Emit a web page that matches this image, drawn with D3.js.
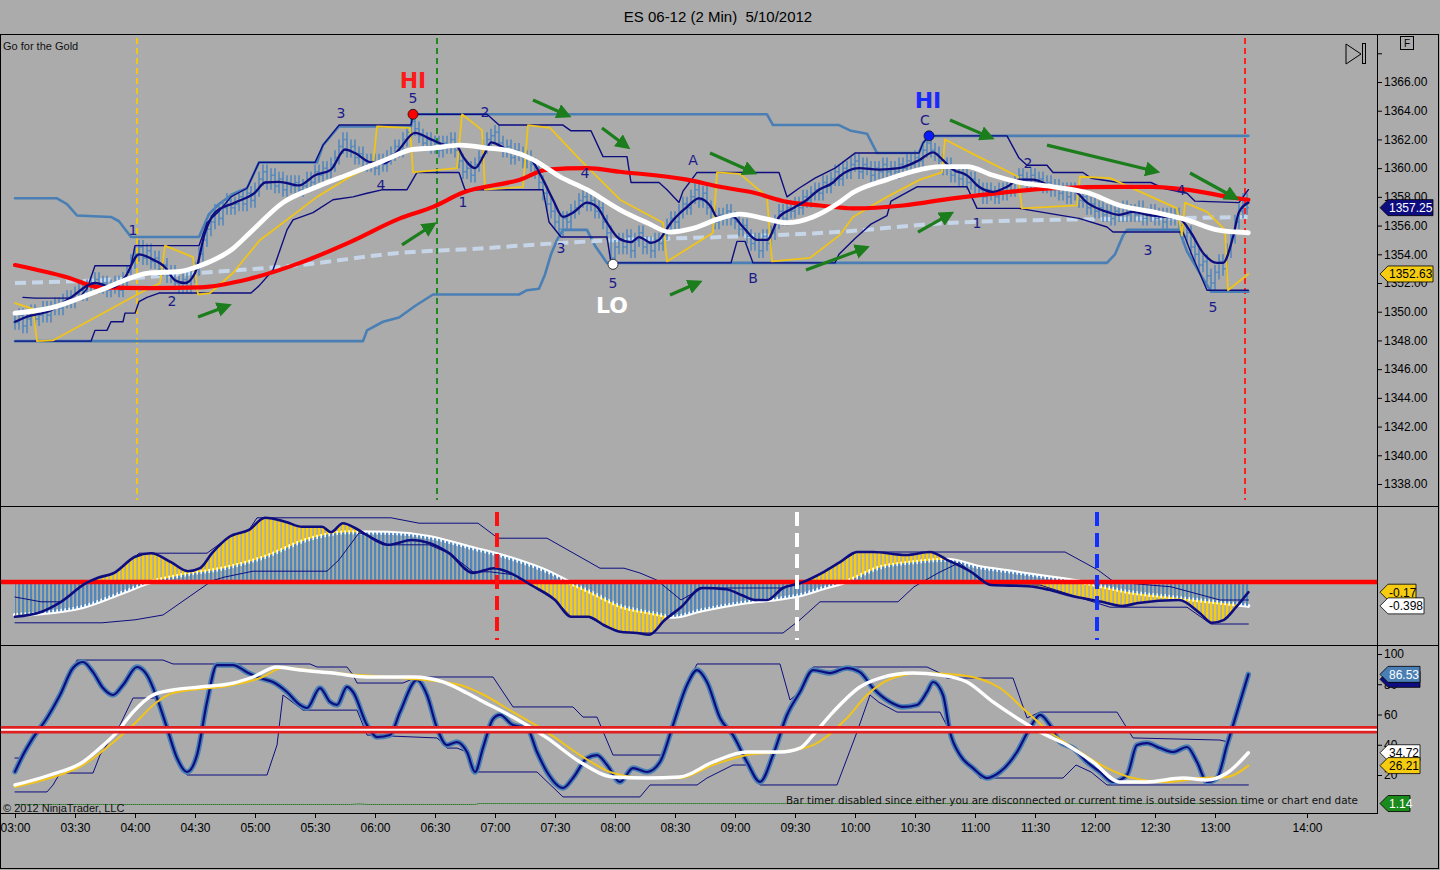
<!DOCTYPE html>
<html>
<head>
<meta charset="utf-8">
<script src="https://cdn.jsdelivr.net/npm/d3@7"></script>
<style>
  body { margin: 0; background: #ababab; }
  text { font-family: "Liberation Sans", Arial, sans-serif; }
</style>
</head>
<body>
<div id="chart"></div>
<script>
// ---------- data ----------
const title = "ES 06-12 (2 Min)  5/10/2012"
const timeTicks = ["03:00","03:30","04:00","04:30","05:00","05:30","06:00","06:30","07:00","07:30",
  "08:00","08:30","09:00","09:30","10:00","10:30","11:00","11:30","12:00","12:30","13:00","14:00"]
const priceTicks = [1338,1340,1342,1344,1346,1348,1350,1352,1354,1356,1358,1360,1362,1364,1366,1368]
const stochTicks = [20,40,60,80,100]

// 2-minute closes from 03:00 (bar 0) to 13:16 (bar 308)
const closes = [
  1349.25,1349.75,1349.0,1349.5,1350.0,1349.5,1349.75,1350.25,1349.75,1350.25,
  1350.5,1350.25,1350.75,1351.0,1350.75,1351.25,1351.5,1351.25,1351.75,1352.0,
  1352.25,1351.75,1352.0,1351.5,1351.75,1352.0,1351.5,1352.25,1352.75,1353.5,
  1354.0,1354.5,1353.75,1354.25,1353.5,1353.75,1353.0,1353.25,1352.5,1352.75,
  1352.0,1351.75,1352.25,1351.75,1352.5,1353.0,1354.0,1355.0,1355.75,1356.25,
  1357.0,1356.5,1357.25,1357.75,1357.25,1357.5,1358.0,1357.5,1358.25,1357.75,
  1358.5,1359.25,1359.75,1359.0,1359.5,1358.75,1359.25,1358.5,1359.0,1358.75,
  1359.0,1358.5,1358.75,1359.25,1359.0,1359.75,1359.5,1360.0,1359.75,1360.25,
  1360.75,1361.5,1362.0,1361.25,1361.5,1360.75,1361.0,1360.5,1360.25,1360.5,
  1360.0,1360.5,1360.25,1360.75,1361.0,1361.5,1361.25,1362.0,1362.5,1363.25,
  1362.75,1362.25,1361.75,1362.0,1361.5,1361.75,1361.25,1361.75,1361.5,1362.0,
  1361.25,1360.5,1359.75,1360.0,1359.5,1360.25,1360.75,1361.5,1362.0,1362.25,
  1362.5,1361.75,1361.25,1361.5,1360.75,1361.25,1361.0,1360.5,1360.75,1360.25,
  1359.75,1359.0,1358.25,1357.5,1357.0,1356.25,1355.75,1356.5,1356.25,1357.0,
  1357.25,1357.75,1358.0,1357.5,1357.75,1357.0,1357.25,1356.25,1355.5,1353.75,
  1354.5,1355.0,1354.5,1355.25,1354.25,1355.0,1355.5,1354.5,1354.75,1354.25,
  1355.0,1354.75,1355.5,1356.0,1356.5,1356.25,1357.0,1357.5,1357.25,1358.0,
  1358.5,1357.75,1358.25,1357.25,1357.0,1356.25,1356.75,1356.5,1357.0,1356.5,
  1356.25,1355.75,1356.0,1355.25,1354.75,1355.0,1354.25,1355.25,1354.75,1355.5,
  1356.25,1357.0,1356.5,1357.25,1357.0,1357.5,1357.25,1358.0,1357.75,1358.25,
  1358.5,1358.25,1359.0,1358.75,1359.25,1359.75,1359.25,1360.0,1359.75,1360.25,
  1360.5,1359.75,1360.25,1360.0,1359.5,1360.0,1359.75,1360.25,1359.75,1360.0,
  1359.75,1360.25,1360.0,1360.5,1360.25,1360.75,1360.5,1361.25,1361.75,1361.25,
  1361.0,1360.5,1360.0,1360.25,1359.5,1359.75,1359.25,1359.5,1359.0,1359.25,
  1358.75,1358.5,1358.0,1358.5,1358.25,1358.0,1358.5,1358.25,1358.75,1358.5,
  1359.0,1359.5,1359.25,1359.0,1359.5,1359.0,1359.25,1358.75,1359.0,1358.5,
  1358.75,1358.25,1358.5,1358.0,1358.5,1358.25,1357.75,1358.0,1357.25,1357.5,
  1357.0,1357.25,1356.75,1357.0,1356.5,1357.0,1356.75,1357.25,1356.75,1357.0,
  1356.75,1357.25,1356.5,1356.75,1357.0,1356.5,1356.75,1356.25,1356.75,1356.5,
  1356.75,1356.0,1355.25,1355.5,1354.5,1354.0,1353.25,1353.5,1352.5,1352.0,
  1352.75,1353.5,1353.0,1354.25,1355.25,1356.25,1357.0,1357.75,1357.25
]

// [bar, price]
const fastMA = [[0,1349.3],[2.5,1349.6],[9,1350.1],[14,1351.0],[20,1352.0],[24.5,1351.7],[27.5,1352.4],[31,1354.0],[34,1353.7],
  [37.5,1353.1],[40,1352.2],[42.5,1352.0],[45,1352.7],[47.5,1355.5],[50,1356.9],[55,1357.6],[60,1358.3],[62.5,1359.0],[66,1359.05],
  [71,1358.8],[75,1359.5],[79,1359.9],[82.5,1361.3],[85,1361.05],[89,1360.4],[92.5,1360.35],[96,1361.3],[100,1362.45],[104,1362.0],
  [107.5,1361.6],[110.5,1361.5],[112,1360.8],[115,1360.0],[117.5,1361.05],[119,1361.8],[123,1361.3],[125.5,1361.05],[129,1360.6],
  [132,1359.2],[134.5,1357.8],[137,1356.6],[139.5,1356.9],[143,1357.6],[145.5,1357.3],[148,1356.2],[151,1355.1],[154,1354.85],
  [156,1355.2],[159,1354.8],[161,1355.0],[164,1356.2],[168,1357.3],[171,1357.9],[174,1357.3],[175.5,1356.6],[179.5,1356.6],
  [182,1355.9],[185.5,1355.0],[188,1355.0],[191,1356.6],[194.5,1357.2],[198,1357.8],[201,1358.5],[204.5,1359.0],[206,1359.4],
  [211,1360.0],[216,1359.9],[221,1360.0],[226,1360.55],[229.5,1361.1],[232,1360.55],[234.5,1359.9],[238,1359.5],[241,1358.7],
  [244.5,1358.35],[248,1358.7],[251,1359.2],[254.5,1359.2],[259.5,1358.7],[264.5,1358.5],[268,1357.6],[273,1356.95],[276,1356.75],
  [279.5,1356.95],[283,1356.75],[288,1356.6],[291,1356.5],[294,1355.5],[297,1354.1],[300.5,1353.4],[302,1353.4],[304.5,1355.2],
  [306,1356.95],[308.5,1357.6]]
const slowMA = [[0,1349.9],[8.75,1350.25],[21.25,1351.5],[33.75,1352.7],[41.25,1352.8],[46.25,1353.2],[54.5,1354.4],[58.75,1355.5],
  [67,1357.6],[75.5,1358.7],[83.75,1359.6],[92,1360.5],[99.5,1361.3],[104.5,1361.4],[111.25,1361.6],[118,1361.4],[123.75,1361.2],
  [129.5,1360.6],[136.25,1359.4],[143,1358.5],[151.25,1357.1],[158,1356.2],[163.75,1355.55],[169.5,1355.8],[176.25,1356.5],
  [181.25,1356.8],[188,1356.45],[193,1356.2],[199.5,1356.6],[205.5,1357.5],[209.5,1358.3],[218,1359.2],[226.25,1359.9],
  [231.25,1360.1],[238,1360.1],[244.5,1359.5],[251.25,1359.0],[259.5,1358.7],[268,1358.3],[276.25,1357.4],[284.5,1356.95],
  [293,1356.4],[300.5,1355.7],[308.5,1355.5]]
const redMA = [[0,1353.25],[13,1352.4],[21.25,1351.7],[33.75,1351.65],[46.25,1351.7],[58.75,1352.3],[71.25,1353.4],[83.75,1354.85],
  [96.25,1356.5],[104.5,1357.3],[112,1358.3],[126.25,1359.2],[133,1359.9],[143,1360.0],[151.25,1359.75],[168,1359.2],[176.25,1358.7],
  [184.5,1358.3],[193,1357.65],[201.25,1357.4],[209.5,1357.2],[222,1357.4],[234.5,1357.9],[247,1358.3],[259.5,1358.6],
  [276.25,1358.7],[284.5,1358.7],[293,1358.5],[305.5,1357.9],[308.5,1357.8]]
const dashMA = [[0,1352.0],[21.25,1352.2],[46.25,1352.7],[71.25,1353.25],[96.25,1354.1],[116.25,1354.4],[126.25,1354.6],
  [151.25,1355.0],[176.25,1355.2],[205.5,1355.55],[234.5,1356.2],[259.5,1356.4],[284.5,1356.5],[308.5,1356.6]]
const goldLine = [[0,1350.6],[4.5,1350.2],[5.5,1347.95],[9.5,1348.0],[18.75,1349.4],[31.25,1351.3],[36.25,1352.0],[37.5,1354.6],
  [44.5,1353.8],[45.75,1351.2],[48.75,1351.3],[54.5,1352.7],[61.25,1355.0],[68,1356.4],[75.5,1358.0],[83.75,1359.4],[89.5,1360.2],
  [90.5,1362.9],[98.75,1362.8],[99.5,1359.7],[110.5,1360.0],[111.75,1363.75],[116.75,1362.65],[117.5,1358.5],[127,1358.7],
  [128.25,1363.0],[133.75,1362.8],[141.25,1360.6],[151.25,1357.8],[162,1356.2],[163,1353.5],[174.5,1355.5],[175.5,1359.7],
  [181.25,1359.6],[188,1358.0],[189.25,1353.5],[198.75,1353.75],[206.25,1355.35],[209.5,1356.6],[218,1358.0],[226.25,1359.2],
  [231.75,1359.7],[232.5,1362.0],[238.75,1361.1],[250.75,1359.4],[251.75,1357.2],[265.5,1357.4],[266.25,1359.4],[273.75,1359.3],
  [290.5,1357.2],[291.75,1355.3],[292.5,1357.6],[298,1356.95],[302.5,1355.7],[303.25,1351.5],[308.5,1352.63]]
const outerUpper = [[0,1357.9],[10.5,1357.9],[13,1357.5],[15.5,1356.7],[24,1356.6],[26,1356.3],[29,1355.2],[46,1355.2],[48.5,1356.8],
  [51,1357.5],[54.5,1358.2],[58,1358.6],[61,1360.4],[75.5,1360.4],[77,1361.6],[81,1362.9],[99,1362.9],[99.5,1363.75],[188,1363.75],
  [189.5,1363.0],[206,1363.0],[209,1362.6],[213,1362.4],[215.5,1361.05],[226,1361.05],[227,1361.75],[228.5,1362.25],[308.5,1362.25]]
const outerLower = [[0,1347.95],[87,1347.95],[88,1348.7],[92,1349.3],[96,1349.6],[100,1350.4],[104.5,1351.2],[126,1351.2],[128,1351.5],
  [131,1351.6],[132.5,1352.6],[134,1354.0],[135.5,1355.0],[137,1355.7],[143,1355.7],[145,1354.6],[148,1353.4],[273,1353.4],
  [275,1354.0],[277,1355.3],[278,1355.7],[291,1355.7],[293,1354.2],[297,1352.3],[299,1351.4],[308.5,1351.4]]
const innerUpper = [[2,1351.0],[5,1350.95],[16,1350.95],[18,1351.6],[20,1353.2],[29,1353.2],[30,1354.6],[46,1354.6],[48,1356.2],
  [51,1357.0],[54,1358.0],[58,1358.6],[61,1360.4],[75,1360.4],[77,1361.6],[81,1363.0],[99,1363.0],[99.5,1363.75],[118,1363.75],
  [121,1363.0],[137,1363.0],[139,1362.6],[144,1362.6],[147,1360.8],[153,1360.8],[154,1359.0],[161,1359.0],[163,1358.5],[166,1357.6],
  [167,1358.4],[170.5,1359.7],[191,1359.7],[193,1358.0],[196,1358.6],[200,1359.3],[205,1360.0],[210,1361.05],[226,1361.05],
  [227,1361.75],[228.5,1362.25],[248,1362.25],[251,1360.7],[253,1360.2],[258,1360.2],[259.5,1359.7],[267,1359.7],[269,1359.3],
  [276,1359.0],[284,1359.0],[287,1358.6],[293,1358.25],[295,1357.7],[306,1357.6],[308.5,1358.5]]
const innerLower = [[0,1347.95],[19,1347.95],[20,1348.7],[23,1348.7],[24,1349.3],[27,1349.3],[27.5,1349.9],[30,1349.9],[31,1350.7],
  [33,1351.0],[36,1351.3],[59,1351.3],[61,1351.8],[64.5,1352.9],[68,1355.7],[69.5,1356.4],[74.5,1356.9],[79.5,1357.8],[84.5,1358.0],
  [88,1358.25],[92,1358.5],[98,1358.5],[100.5,1359.7],[111,1359.7],[112.5,1358.5],[132,1358.5],[133.5,1356.25],[136.5,1355.2],
  [148,1355.2],[149,1353.4],[179,1353.4],[180.5,1354.9],[182.5,1354.9],[184.5,1353.4],[205,1353.4],[206,1354.0],[210,1355.1],
  [214,1356.1],[218,1356.7],[219,1357.7],[225.5,1358.7],[238,1358.7],[240.5,1357.2],[251,1357.2],[266,1356.5],[273,1355.9],
  [274.5,1355.55],[292,1355.55],[294,1354.1],[298,1351.5],[308.5,1351.5]]

// annotations: [text, bar, price]
const waveLabels = [["1",29.5,1355.7],["2",39.25,1350.75],["3",81.5,1363.85],["4",91.5,1358.8],["5",99.5,1364.9],
  ["2",117.5,1363.9],["1",112,1357.65],["4",142.5,1359.65],["3",136.5,1354.45],["5",149.5,1352.0],["A",169.5,1360.6],
  ["B",184.5,1352.35],["C",227.5,1363.35],["1",240.5,1356.2],["2",253.25,1360.35],["3",283.25,1354.3],["4",291.5,1358.5],
  ["5",299.5,1350.3]]
const pivotTags = [["HI",99.5,1366.15,"#ff1a1a"],["LO",149.25,1350.45,"#ffffff"],["HI",228.25,1364.75,"#1a2aff"]]
const pivots = [[99.5,1363.75,"#ff0000"],[149.5,1353.3,"#ffffff"],[228.5,1362.25,"#0a1aff"]]
const arrows = [[45.75,1349.63,51.75,1350.26],[96.75,1354.65,103.25,1355.83],[129.5,1364.75,136.75,1363.84],
  [146.75,1362.8,151.75,1361.75],[163.75,1351.16,169.5,1351.86],[173.75,1361.05,183.25,1359.87],[197.75,1352.9,211.25,1354.3],
  [225.75,1355.55,232.5,1356.6],[233.75,1363.35,242.5,1362.3],[258,1361.6,283.75,1359.87],[293.75,1359.66,303.75,1358.13]]
// session markers, minutes after 03:00
const priceMarkers = [[61,"#f0c419"],[211,"#1f8a1f"],[615,"#ff2020"]]
const oscMarkers = [[241,"#ff1010"],[391,"#ffffff"],[541,"#1030ff"]]

// oscillator panel [bar, value]
const macdLine = [[0,-0.58],[6.5,-0.5],[11.5,-0.33],[17.75,-0.02],[20.75,0.07],[24.75,0.15],[30,0.42],[34,0.48],[39,0.33],
  [43.25,0.18],[46.25,0.23],[49.25,0.48],[53.5,0.75],[58.5,0.87],[62.5,1.07],[67.75,1.0],[71.75,0.92],[76.75,0.92],[79,0.83],
  [82,0.98],[85,0.9],[88,0.78],[93.25,0.62],[99.25,0.7],[103.5,0.65],[108.5,0.48],[114.5,0.15],[119.75,0.23],[124.75,0.12],
  [129,-0.05],[135,-0.3],[139,-0.58],[143.25,-0.58],[147.25,-0.72],[151.25,-0.83],[155.5,-0.85],[158.5,-0.88],[162.5,-0.63],
  [166.5,-0.42],[171.75,-0.1],[177.75,-0.12],[181.75,-0.22],[185,-0.3],[188,-0.3],[192,-0.1],[196.25,-0.02],[202.25,0.17],
  [206.25,0.33],[210.5,0.5],[214.5,0.5],[222.75,0.45],[228.75,0.5],[233,0.37],[239,0.17],[244,-0.05],[253.25,-0.07],
  [258.5,-0.13],[263.5,-0.22],[271.75,-0.33],[276.75,-0.4],[280.75,-0.35],[291,-0.3],[296.25,-0.52],[299.25,-0.68],
  [302.25,-0.63],[305.25,-0.42],[308.5,-0.17]]
const signalLine = [[0,-0.55],[6.5,-0.52],[16.75,-0.42],[26.75,-0.18],[33,-0.02],[42.25,0.12],[52.25,0.23],[62.5,0.42],
  [72.75,0.7],[83,0.83],[93.25,0.82],[103.5,0.75],[113.5,0.58],[123.75,0.4],[134,0.15],[139,-0.02],[144.25,-0.18],
  [151.25,-0.4],[159.5,-0.52],[164.5,-0.58],[171.75,-0.47],[181.75,-0.35],[192,-0.27],[196.25,-0.22],[202.25,-0.1],
  [207.5,0],[216.5,0.25],[224.75,0.33],[233,0.37],[241,0.25],[249.25,0.17],[258.5,0.08],[266.5,0],[278.75,-0.17],
  [289,-0.25],[299.25,-0.33],[308.5,-0.398]]
const macdUpper = [[0,-0.25],[6.5,-0.33],[11.5,-0.33],[17.75,-0.02],[20.75,0.07],[24.75,0.15],[30,0.42],[31,0.48],[48,0.48],
  [53.5,0.75],[58.5,0.87],[60.5,1.07],[94,1.07],[101,0.98],[115.75,0.98],[120.75,0.73],[133,0.73],[146.25,0.23],[152.25,0.23],
  [156.25,0.15],[160.5,0.03],[166.5,-0.3],[171.75,-0.1],[192,-0.1],[196.25,-0.02],[202.25,0.17],[206.25,0.33],[210.5,0.5],
  [262.5,0.5],[270.75,0.2],[274.75,0],[289,-0.08],[301.25,-0.3],[308.5,-0.3]]
const macdLower = [[0,-0.68],[21.75,-0.68],[30,-0.63],[37,-0.55],[49.25,0.02],[52.25,0.08],[59.5,0.18],[78,0.18],[81,0.37],
  [86,0.82],[88,0.78],[93.25,0.62],[103.5,0.62],[108.5,0.48],[114.5,0.17],[118.75,0.17],[124.75,0.12],[129,-0.05],[135,-0.3],
  [139,-0.58],[143.25,-0.58],[147.25,-0.72],[151.25,-0.83],[155.5,-0.85],[192,-0.85],[196.25,-0.63],[201.25,-0.33],
  [220.75,-0.33],[224.75,-0.08],[230.75,0.15],[236,0.32],[239,0.17],[244,-0.05],[256.25,-0.05],[273.75,-0.42],[293,-0.42],
  [299,-0.7],[308.5,-0.7]]

// stochastic panel [bar, value]
const stochK = [[0,22.2],[2,33.2],[4.5,44.5],[8,57.7],[11.25,72.9],[14.5,90.7],[17,94.7],[19.5,88],[22,77.5],[24.5,72.9],
  [27,79.5],[30.5,91.4],[33,86.1],[35.5,70.9],[38,51.1],[40.5,31.2],[43,22],[45.5,33.2],[48,68.3],[50.5,92.7],[54.5,92.7],
  [58,88],[61.25,84.1],[64.5,81.5],[68,74.9],[71.25,66.3],[73,64.3],[76.25,77.5],[78.75,68.3],[80.5,66.3],[83,78.2],
  [84.5,74.9],[88,53],[90.5,45.1],[93.75,46.4],[96.25,61.6],[100.5,82.8],[103,72.9],[105.5,51.1],[108,39.8],[110.5,41.8],
  [113,35.2],[115,22],[117,38],[119.5,57],[121.25,59.7],[124.5,53],[128,51.1],[130.5,35.2],[133,22],[137,11.4],[139.5,18],
  [143,31.2],[145.5,33.2],[148,26.6],[151.25,15.4],[154.5,24.6],[158,22],[161.25,28.6],[164.5,53],[168,79.5],[170.5,89.4],
  [173,81.5],[176.25,57.7],[179.5,46.4],[183,28.6],[186.25,15.4],[189.5,33.2],[193,59.7],[196.25,74.9],[199.5,89.4],
  [203.75,87.4],[208,90.7],[211.25,88],[214.5,77.5],[218.75,68.3],[222,65],[225.5,66.3],[228,74.9],[229.5,81.5],[232,72.9],
  [233.75,48.4],[236.25,33.2],[239.5,24.6],[243,18],[246.25,22],[250.5,35.2],[253.75,51.1],[256.25,59.7],[258.75,53],
  [261.25,41.8],[264.5,37.8],[268,28.6],[271.25,22],[274.5,15.4],[278,20],[280.5,39.8],[283,41.1],[286.25,37.8],[289.5,35.2],
  [293,38.5],[295.5,28.6],[298,15.4],[300.5,18],[303,39.8],[305.5,61.6],[308.5,86.53]]
const stochD = [[0,13.4],[8.75,20],[17,28.6],[21.25,37.8],[25.5,48.4],[29.5,61.6],[34.5,72.9],[39.5,76.2],[46.25,78.2],
  [54.5,80.8],[59.5,84.8],[65.5,91.4],[71.25,89.4],[79.5,87.4],[88,84.8],[99.5,84.8],[107,81.5],[113,74.2],[116.25,69.6],
  [124.5,58.3],[133,44.5],[141.25,28.6],[149.5,18.7],[158,18],[166.25,18.7],[174.5,28.6],[183,35.2],[191.25,35.2],
  [196.25,37.8],[199.5,46.4],[204.5,61.6],[211.25,78.2],[216.25,84.1],[224.5,87.4],[231.25,86.1],[238,81.5],[244.5,68.3],
  [251.25,56.4],[256.25,48.4],[263,39.8],[269.5,28.6],[276.25,15.4],[283,15.4],[292,18],[298,16.7],[303,21.3],[308.5,34.72]]
const stochSlow = [[0,12.1],[8.75,18],[17,26.6],[23.75,39.8],[29.5,53],[35.5,68.3],[39.5,74.2],[54.5,79.5],[61.25,84.1],
  [67,90.7],[79.5,87.4],[96.25,84.1],[111.25,79.5],[116.25,74.2],[124.5,61.6],[133,48.4],[141.25,33.2],[149.5,21.3],[158,18],
  [166.25,18],[174.5,26.6],[183,33.2],[191.25,35.2],[199.5,39.8],[208,57.7],[213,72.9],[219.5,84.1],[227,87.4],[236.25,86.1],
  [246.25,77.5],[253,61.6],[258.75,48.4],[266.25,35.2],[273,24.6],[279.5,18],[288,15.4],[296.25,18],[303,18.7],[308.5,26.21]]
const stochUpper = [[0,31.2],[1.5,31.2],[4.5,44.5],[8,57.7],[11.25,72.9],[14.5,90.7],[15.5,96],[37,96],[39.5,93.4],[73.75,93.4],
  [75.5,91.4],[83,91.4],[84.5,86.1],[85.5,80.8],[97,80.8],[100.5,84.8],[119.5,84.8],[124.5,65],[139.5,65],[142,58.3],[145.5,58.3],
  [149.5,33.2],[161.75,33.2],[164.5,53],[168,79.5],[170.5,93.4],[191.25,93.4],[193.75,69.6],[196.25,74.9],[199.5,91.4],
  [228,91.4],[231.25,87.4],[233,84.1],[249.5,84.1],[253,57.7],[256.25,61.6],[275.5,61.6],[279.5,44.5],[301.25,43.1],
  [303,42],[305.5,61.6],[308.5,86.53]]
const stochLower = [[0,8.8],[8,8.8],[9.5,13.4],[11.25,21.3],[19.5,21.3],[21.25,33.2],[26.25,53],[29.5,70.9],[35.5,70.9],
  [38,51.1],[40.5,31.2],[43,20],[63,20],[65.5,39.8],[67,72.9],[72,62.9],[85.5,62.9],[88,46.4],[105.5,44.5],[108,37.8],
  [110.5,37.8],[113,35.2],[115,22],[130.5,22],[137,5.5],[156.25,5.5],[158.75,13.4],[170.5,13.4],[173,18],[179.5,26.6],
  [183,26.6],[186.25,13.4],[205.5,13.4],[210.5,48.4],[213.75,72.9],[216,68],[220.5,61.6],[231.25,61.6],[233.75,48.4],
  [236.25,33.2],[239.5,24.6],[241.25,18],[262,18],[265.25,26.6],[269,22],[273,13.4],[308.5,13.4]]
const timerLine = [[0,0.5],[84,0.5],[86,0.9],[88,0.5],[115,0.5],[116,1.14],[308.5,1.14]]

// ---------- layout ----------
const W = 1440, H = 870
const plotRight = 1377, edge = 1438.5
const col = { bg: "#ababab", navy: "#0d0d80", steel: "#4a7fb5", bar: "#4f86bd", gold: "#f0c419",
  red: "#ff0000", green: "#1b7d1b", light: "#c6d5e8", text: "#1a1a8a" }

const svg = d3.select("#chart").append("svg").attr("width", W).attr("height", H)
svg.append("rect").attr("width", W).attr("height", H).attr("fill", col.bg)
const defs = svg.append("defs")

// time runs on bars up to the last one, the session tail is squeezed like the platform does
const x = d3.scaleLinear().domain([0, 616, 660]).range([15, 1247, 1307])
const bx = i => x(2 * i)
const yP = d3.scaleLinear().domain([1338, 1366]).range([484, 82])
const yM = d3.scaleLinear().domain([-1.05, 1.25]).range([645, 507])
const yS = d3.scaleLinear().domain([20, 100]).range([775, 654])

// clip regions for the three panels
const clips = [["cP", 35, 506], ["cM", 507, 645], ["cS", 646, 813]]
clips.forEach(([id, t, b]) => {
  defs.append("clipPath").attr("id", id).append("rect")
    .attr("x", 1).attr("y", t).attr("width", plotRight - 1).attr("height", b - t)
})
const pricePanel = svg.append("g").attr("clip-path", "url(#cP)")
const oscPanel = svg.append("g").attr("clip-path", "url(#cM)")
const stochPanel = svg.append("g").attr("clip-path", "url(#cS)")

const lineGen = (ys, curve) => d3.line().x(d => bx(d[0])).y(d => ys(d[1])).curve(curve || d3.curveLinear)
function path(g, data, ys, stroke, width, curve, dash) {
  return g.append("path").datum(data)
    .attr("d", lineGen(ys, curve))
    .attr("fill", "none")
    .attr("stroke", stroke)
    .attr("stroke-width", width)
    .attr("stroke-linejoin", "round")
    .attr("stroke-linecap", "round")
    .attr("stroke-dasharray", dash || null)
}

// ---------- price panel ----------
priceMarkers.forEach(([m, c]) => {
  pricePanel.append("line").attr("x1", x(m)).attr("x2", x(m)).attr("y1", 38).attr("y2", 500)
    .attr("stroke", c).attr("stroke-width", 2).attr("stroke-dasharray", "6,4")
})

path(pricePanel, outerUpper, yP, col.steel, 2.6)
path(pricePanel, outerLower, yP, col.steel, 2.6)
path(pricePanel, dashMA, yP, col.light, 4, d3.curveMonotoneX, "11,6").attr("stroke-linecap", "butt")

// OHLC bars, open taken from the prior close
const bars = closes.map((c, i) => {
  const o = i ? closes[i - 1] : c
  return { i, o, c, h: Math.max(o, c) + 0.5, l: Math.min(o, c) - 0.5 }
})
pricePanel.append("g").selectAll("path").data(bars).join("path")
  .attr("d", d => {
    const cx = bx(d.i)
    return `M${cx},${yP(d.h)}V${yP(d.l)}M${cx - 1.8},${yP(d.o)}H${cx}M${cx},${yP(d.c)}H${cx + 1.8}`
  })
  .attr("stroke", col.bar).attr("stroke-width", 1.5).attr("fill", "none")

path(pricePanel, innerUpper, yP, col.navy, 1.4)
path(pricePanel, innerLower, yP, col.navy, 1.4)
path(pricePanel, goldLine, yP, col.gold, 1.8)
path(pricePanel, redMA, yP, col.red, 4.2, d3.curveMonotoneX)
path(pricePanel, fastMA, yP, col.navy, 2.3, d3.curveMonotoneX)
path(pricePanel, slowMA, yP, "#ffffff", 4.8, d3.curveMonotoneX)

// green arrows
defs.append("marker").attr("id", "ah").attr("viewBox", "0 0 10 10").attr("refX", 3).attr("refY", 5)
  .attr("markerWidth", 15).attr("markerHeight", 15).attr("markerUnits", "userSpaceOnUse").attr("orient", "auto")
  .append("path").attr("d", "M0,0L10,5L0,10Z").attr("fill", col.green)
pricePanel.append("g").selectAll("line").data(arrows).join("line")
  .attr("x1", d => bx(d[0])).attr("y1", d => yP(d[1]))
  .attr("x2", d => bx(d[2])).attr("y2", d => yP(d[3]))
  .attr("stroke", col.green).attr("stroke-width", 3.2).attr("marker-end", "url(#ah)")

pricePanel.append("g").selectAll("text").data(waveLabels).join("text")
  .attr("x", d => bx(d[1])).attr("y", d => yP(d[2]) + 5)
  .attr("text-anchor", "middle").attr("fill", col.text)
  .style("font-family", "'DejaVu Sans', sans-serif").style("font-size", "14px")
  .text(d => d[0])
pricePanel.append("g").selectAll("text").data(pivotTags).join("text")
  .attr("x", d => bx(d[1])).attr("y", d => yP(d[2]) + 8)
  .attr("text-anchor", "middle").attr("fill", d => d[3])
  .style("font-family", "'DejaVu Sans', sans-serif").style("font-size", "22px").style("font-weight", "bold")
  .text(d => d[0])
pricePanel.append("g").selectAll("circle").data(pivots).join("circle")
  .attr("cx", d => bx(d[0])).attr("cy", d => yP(d[1])).attr("r", 5)
  .attr("fill", d => d[2]).attr("stroke", "#111").attr("stroke-width", 0.8)

svg.append("text").attr("x", 3).attr("y", 50).text("Go for the Gold")
  .style("font-size", "11px").attr("fill", "#111")

// ---------- oscillator panel ----------
const stripe = (id, c) => defs.append("pattern").attr("id", id).attr("patternUnits", "userSpaceOnUse")
  .attr("x", 14).attr("y", 0).attr("width", 4).attr("height", 8)
  .append("rect").attr("width", 2.3).attr("height", 8).attr("fill", c)
stripe("stY", "#f5cc10")
stripe("stB", "#4f86bd")
const zeroArea = data => d3.area().x(d => bx(d[0])).y0(yM(0)).y1(d => yM(d[1])).curve(d3.curveMonotoneX)(data)

path(oscPanel, signalLine, yM, "#ffffff", 4, d3.curveMonotoneX)
oscPanel.append("path").attr("d", zeroArea(macdLine)).attr("fill", "url(#stY)")
oscPanel.append("path").attr("d", zeroArea(signalLine)).attr("fill", "url(#stB)")
path(oscPanel, macdUpper, yM, col.navy, 1)
path(oscPanel, macdLower, yM, col.navy, 1)
oscPanel.append("line").attr("x1", 0).attr("x2", plotRight).attr("y1", yM(0)).attr("y2", yM(0))
  .attr("stroke", col.red).attr("stroke-width", 4.5)
path(oscPanel, macdLine, yM, col.navy, 2.6, d3.curveMonotoneX)
oscMarkers.forEach(([m, c]) => {
  oscPanel.append("line").attr("x1", x(m)).attr("x2", x(m)).attr("y1", 512).attr("y2", 640)
    .attr("stroke", c).attr("stroke-width", 4).attr("stroke-dasharray", "14,7")
})

// ---------- stochastic panel ----------
path(stochPanel, timerLine, yS, "#2f7f2f", 1, d3.curveLinear, "1,1")
path(stochPanel, stochUpper, yS, col.navy, 1)
path(stochPanel, stochLower, yS, col.navy, 1)
path(stochPanel, stochK, yS, col.steel, 5.5, d3.curveMonotoneX)
path(stochPanel, stochK, yS, col.navy, 2.2, d3.curveMonotoneX)
path(stochPanel, stochSlow, yS, "#f2c41a", 2, d3.curveMonotoneX)
path(stochPanel, stochD, yS, "#ffffff", 3.4, d3.curveMonotoneX)
stochPanel.append("line").attr("x1", 0).attr("x2", plotRight).attr("y1", yS(50)).attr("y2", yS(50))
  .attr("stroke", "#e02020").attr("stroke-width", 7.5)
stochPanel.append("line").attr("x1", 0).attr("x2", plotRight).attr("y1", yS(50)).attr("y2", yS(50))
  .attr("stroke", "#ffffff").attr("stroke-width", 2)

svg.append("text").attr("x", 3).attr("y", 812).text("© 2012 NinjaTrader, LLC")
  .style("font-size", "11px").attr("fill", "#111")
svg.append("text").attr("x", 786).attr("y", 804)
  .text("Bar timer disabled since either you are disconnected or current time is outside session time or chart end date")
  .style("font-family", "'DejaVu Sans', sans-serif").style("font-size", "10px").attr("fill", "#111")
  .attr("textLength", 572).attr("lengthAdjust", "spacingAndGlyphs")

// ---------- frames ----------
const frame = svg.append("g").attr("stroke", "#000").attr("stroke-width", 1)
frame.append("line").attr("x1", 0).attr("x2", edge).attr("y1", 34.5).attr("y2", 34.5)
frame.append("line").attr("x1", 0).attr("x2", edge).attr("y1", 506.5).attr("y2", 506.5)
frame.append("line").attr("x1", 0).attr("x2", edge).attr("y1", 645.5).attr("y2", 645.5)
frame.append("line").attr("x1", 0).attr("x2", plotRight).attr("y1", 813.5).attr("y2", 813.5)
frame.append("line").attr("x1", 0).attr("x2", edge).attr("y1", 868.5).attr("y2", 868.5)
frame.append("line").attr("x1", 0.5).attr("x2", 0.5).attr("y1", 34).attr("y2", 869)
frame.append("line").attr("x1", plotRight + 0.5).attr("x2", plotRight + 0.5).attr("y1", 34).attr("y2", 814)
frame.append("line").attr("x1", edge).attr("x2", edge).attr("y1", 34).attr("y2", 869)

svg.append("text").attr("x", 718).attr("y", 22).attr("text-anchor", "middle")
  .style("font-size", "15px").style("white-space", "pre").attr("fill", "#000").text(title)

// ---------- axes ----------
function styleAxis(g) {
  g.select(".domain").remove()
  g.selectAll("line").attr("stroke", "#000")
  g.selectAll("text").style("font-family", "'Liberation Sans', Arial, sans-serif").style("font-size", "12px").attr("fill", "#000")
}
svg.append("g").attr("transform", `translate(${plotRight},0)`)
  .call(d3.axisRight(yP).tickValues(priceTicks).tickSize(5).tickPadding(2)
    .tickFormat(d => d > 1366 ? "" : d.toFixed(2)))
  .call(styleAxis)
svg.append("g").attr("transform", `translate(${plotRight},0)`)
  .call(d3.axisRight(yS).tickValues(stochTicks).tickSize(5).tickPadding(2))
  .call(styleAxis)
const tickMinutes = timeTicks.map(t => (+t.slice(0, 2) - 3) * 60 + (+t.slice(3)))
svg.append("g").attr("transform", "translate(0,813)")
  .call(d3.axisBottom(x).tickValues(tickMinutes).tickSize(5).tickPadding(5)
    .tickFormat((d, i) => timeTicks[i]))
  .call(styleAxis)

// ---------- value flags ----------
function flag(y, txt, bg, fg, w) {
  const g = svg.append("g").attr("transform", `translate(1380,${y})`)
  g.append("path").attr("d", `M0,0L8,-8H${w}V8H8Z`).attr("fill", bg).attr("stroke", "#000").attr("stroke-width", 0.8)
  g.append("text").attr("x", 9).attr("y", 4.5).text(txt).attr("fill", fg).style("font-size", "12px")
}
const last = a => a[a.length - 1][1]
flag(yP(closes[closes.length - 1]), d3.format(".2f")(closes[closes.length - 1]), "#0d0d80", "#fff", 53)
flag(yP(last(goldLine)), d3.format(".2f")(last(goldLine)), "#f5cc10", "#000", 53)
flag(yM(last(macdLine)), "" + last(macdLine), "#f5cc10", "#000", 36)
flag(yM(last(signalLine)), "" + last(signalLine), "#ffffff", "#000", 44)
flag(yS(last(stochK)) + 5, "", "#0d0d80", "#fff", 40)
flag(yS(last(stochK)), "" + last(stochK), col.steel, "#fff", 40)
flag(yS(last(stochD)), "" + last(stochD), "#ffffff", "#000", 40)
flag(yS(last(stochSlow)), "" + last(stochSlow), "#f5cc10", "#000", 40)
flag(yS(last(timerLine)), "" + last(timerLine), "#1a8a1a", "#fff", 30)

// chart corner buttons
svg.append("path").attr("d", "M1346,44L1361,54L1346,64Z").attr("fill", "none").attr("stroke", "#000")
svg.append("rect").attr("x", 1362.5).attr("y", 43.5).attr("width", 3).attr("height", 20).attr("fill", "none").attr("stroke", "#000")
svg.append("rect").attr("x", 1400.5).attr("y", 36.5).attr("width", 13).attr("height", 13).attr("fill", "none").attr("stroke", "#000")
svg.append("text").attr("x", 1407).attr("y", 47).attr("text-anchor", "middle").text("F").style("font-size", "10px")
</script>
</body>
</html>
